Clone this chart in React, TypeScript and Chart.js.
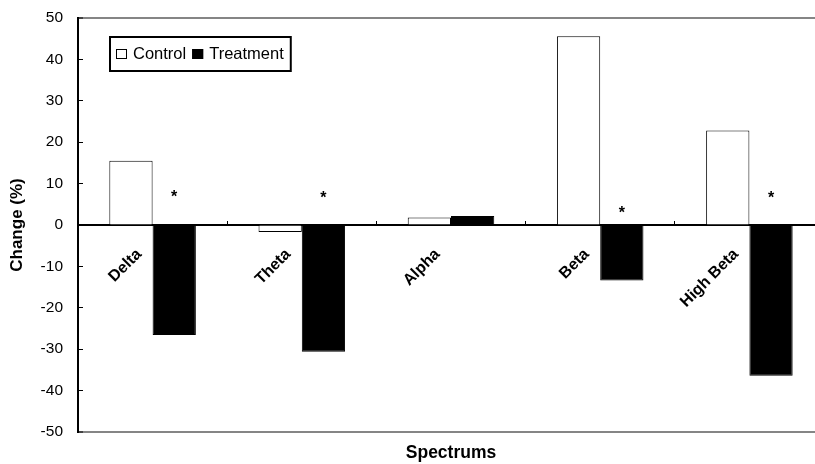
import { useEffect, useRef } from 'react';
import { Chart, registerables } from 'chart.js';

Chart.register(...registerables);

const categories = ['Delta', 'Theta', 'Alpha', 'Beta', 'High Beta'];
const seriesNames = ['Control', 'Treatment'];
const controlValues = [15.5, -1.7, 1.8, 45.6, 22.8];
const treatmentValues = [-26.6, -30.6, 2.2, -13.4, -36.4];
const significanceMarks = ['*', '*', '', '*', '*'];
const markLevels: (number | null)[] = [7.8, 7.4, null, 3.9, 7.4];
const yMin = -50;
const yMax = 50;
const yStep = 10;

const FONT = '"Liberation Sans", Arial, sans-serif';

const markPlugin = {
  id: 'significanceMarks',
  afterDatasetsDraw(chart: any) {
    const { ctx } = chart;
    const meta = chart.getDatasetMeta(1);
    const yScale = chart.scales.y;
    const size = 16;
    ctx.save();
    ctx.font = `bold ${size}px ${FONT}`;
    ctx.fillStyle = '#000';
    ctx.textAlign = 'center';
    ctx.textBaseline = 'alphabetic';
    significanceMarks.forEach((m, i) => {
      const lvl = markLevels[i];
      if (!m || lvl === null) return;
      const el = meta.data[i];
      const y = yScale.getPixelForValue(lvl);
      ctx.fillText(m, el.x, y + size * 0.57);
    });
    ctx.restore();
  },
};

const legendBoxPlugin = {
  id: 'legendBox',
  afterDraw(chart: any) {
    const { ctx, chartArea } = chart;
    const left = chartArea.left + 32;
    const top = chartArea.top + 19;
    const h = 34;
    ctx.save();
    ctx.font = `16.5px ${FONT}`;
    const items = chart.data.datasets.map((ds: any) => ({
      label: ds.label as string,
      fill: ds.backgroundColor as string,
      w: ctx.measureText(ds.label).width,
    }));
    let w = 6;
    items.forEach((it: any, i: number) => {
      w += 11 + 6 + it.w + (i < items.length - 1 ? 6 : 7);
    });
    ctx.fillStyle = '#fff';
    ctx.fillRect(left, top, w, h);
    ctx.lineWidth = 2;
    ctx.strokeStyle = '#000';
    ctx.strokeRect(left, top, w, h);
    let x = left + 6;
    items.forEach((it: any) => {
      ctx.fillStyle = it.fill;
      ctx.fillRect(x, top + 12, 11, 10);
      ctx.lineWidth = 1;
      ctx.strokeStyle = '#000';
      ctx.strokeRect(x + 0.5, top + 12.5, 10, 9);
      x += 17;
      ctx.fillStyle = '#000';
      ctx.textAlign = 'left';
      ctx.textBaseline = 'alphabetic';
      ctx.fillText(it.label, x, top + 22);
      x += it.w + 6;
    });
    ctx.restore();
  },
};

export default function App() {
  const ref = useRef<HTMLCanvasElement | null>(null);

  useEffect(() => {
    if (!ref.current) return;
    const chart = new Chart(ref.current, {
      type: 'bar',
      data: {
        labels: categories,
        datasets: [
          {
            label: seriesNames[0],
            data: controlValues,
            backgroundColor: '#ffffff',
            borderColor: '#000000',
            borderWidth: 1,
          },
          {
            label: seriesNames[1],
            data: treatmentValues,
            backgroundColor: '#000000',
            borderColor: '#000000',
            borderWidth: 1,
          },
        ],
      },
      options: {
        responsive: false,
        animation: false,
        datasets: {
          bar: { categoryPercentage: 0.58, barPercentage: 1 },
        },
        layout: { padding: { top: 18, right: 6, bottom: 0, left: 0 } },
        plugins: {
          legend: { display: false },
          tooltip: { enabled: false },
          title: {
            display: true,
            text: 'Spectrums',
            position: 'bottom',
            fullSize: false,
            color: '#000',
            font: { family: FONT, size: 17.5, weight: 'bold' },
            padding: { top: 11, bottom: 0 },
          },
        },
        scales: {
          x: {
            type: 'category',
            position: { y: 0 } as any,
            offset: true,
            grid: {
              display: true,
              drawOnChartArea: false,
              drawTicks: true,
              tickLength: -5,
              tickColor: '#000',
              tickWidth: 1,
              offset: true,
            },
            border: { display: true, color: '#000', width: 2 },
            ticks: {
              autoSkip: false,
              maxRotation: 45,
              minRotation: 45,
              padding: 25,
              labelOffset: -13.5,
              color: '#000',
              font: { family: FONT, size: 16, weight: 'bold' },
            },
          },
          y: {
            min: yMin,
            max: yMax,
            afterFit: (scale: any) => {
              scale.width = 78;
              scale.paddingTop = 0;
              scale.paddingBottom = 0;
            },
            ticks: {
              stepSize: yStep,
              padding: 20,
              color: '#000',
              font: { family: FONT, size: 15.5 },
            },
            grid: {
              drawOnChartArea: true,
              drawTicks: true,
              tickLength: -5,
              tickColor: '#000',
              tickWidth: 1,
              color: (ctx: any) =>
                ctx.tick && (ctx.tick.value === yMax || ctx.tick.value === yMin)
                  ? '#858585'
                  : 'rgba(0,0,0,0)',
              lineWidth: (ctx: any) =>
                ctx.tick && (ctx.tick.value === yMax || ctx.tick.value === yMin) ? 2 : 1,
            },
            border: { display: true, color: '#000', width: 2 },
            title: {
              display: true,
              text: 'Change (%)',
              color: '#000',
              font: { family: FONT, size: 17, weight: 'bold' },
              padding: { top: 7, bottom: 0 },
            },
          },
        },
      },
      plugins: [markPlugin, legendBoxPlugin],
    });
    return () => chart.destroy();
  }, []);

  return (
    <div
      style={{
        position: 'absolute',
        left: 0,
        top: 0,
        width: 815,
        height: 464,
        overflow: 'hidden',
        background: '#fff',
      }}
    >
      <canvas ref={ref} width={830} height={464} style={{ display: 'block' }} />
    </div>
  );
}
